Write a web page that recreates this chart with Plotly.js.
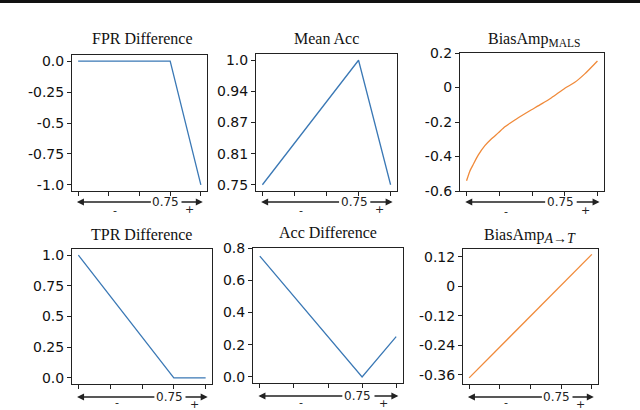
<!DOCTYPE html>
<html>
<head>
<meta charset="utf-8">
<script src="https://cdn.plot.ly/plotly-3.0.1.min.js"></script>
<style>html,body{margin:0;padding:0;background:#fff;}#chart{width:640px;height:410px;}</style>
</head>
<body>
<div id="chart"></div>
<script>
// ---- data ----
const xFPR = [0, 0.75, 1];
const yFPR = [0, 0, -1];
const xMeanAcc = [0, 0.75, 1];
const yMeanAcc = [0.75, 1.0, 0.75];
const xMALS = [0, 0.025, 0.051, 0.089, 0.14, 0.191, 0.242, 0.293, 0.369, 0.445, 0.496, 0.573, 0.649, 0.751, 0.827, 0.903, 1.0];
const yMALS = [-0.541, -0.485, -0.446, -0.392, -0.337, -0.297, -0.263, -0.228, -0.188, -0.152, -0.129, -0.095, -0.059, -0.004, 0.030, 0.079, 0.154];
const xTPR = [0, 0.75, 1];
const yTPR = [1, 0, 0];
const xAccDiff = [0, 0.75, 1];
const yAccDiff = [0.75, 0, 0.25];
const xAT = [0, 1];
const yAT = [-0.372, 0.13];

const titles = ['FPR Difference', 'Mean Acc', 'BiasAmp<sub><span style="font-size:11.5px">MALS</span></sub>',
                'TPR Difference', 'Acc Difference', 'BiasAmp<sub><span style="font-size:14px"><i>A</i>→<i>T</i></span></sub>'];
const xTickVals = [0, 0.25, 0.5, 0.75, 1];
const yTickVals = [
  [0, -0.25, -0.5, -0.75, -1],
  [0.75, 0.8125, 0.875, 0.9375, 1.0],
  [-0.6, -0.4, -0.2, 0, 0.2],
  [0, 0.25, 0.5, 0.75, 1],
  [0, 0.2, 0.4, 0.6, 0.8],
  [-0.36, -0.24, -0.12, 0, 0.12]
];
const yTickText = [
  ['0.0', '-0.25', '-0.5', '-0.75', '-1.0'],
  ['0.75', '0.81', '0.87', '0.94', '1.0'],
  ['-0.6', '-0.4', '-0.2', '0', '0.2'],
  ['0.0', '0.25', '0.5', '0.75', '1.0'],
  ['0.0', '0.2', '0.4', '0.6', '0.8'],
  ['-0.36', '-0.24', '-0.12', '0', '0.12']
];
const midLabel = '0.75';

// ---- layout geometry ----
const W = 640, H = 410;
const boxes = [ // [left, right, top, bottom] in px
  [72, 207, 55, 191],
  [256, 397, 54, 191],
  [460, 604, 53, 191],
  [72, 212, 249, 384],
  [253, 403, 248, 383],
  [463, 598, 249, 384]
];
const yRanges = [
  [-1.05, 0.05],
  [0.7375, 1.0125],
  [-0.6, 0.2],
  [-0.05, 1.05],
  [-0.0375, 0.8],
  [-0.397, 0.152]
];
const titlePos = [[142, 39], [326, 39], [534, 40], [141, 235], [328, 233], [530, 236]];

const BLUE = '#3a78b5', ORANGE = '#f08a3a';
const series = [
  [xFPR, yFPR, BLUE], [xMeanAcc, yMeanAcc, BLUE], [xMALS, yMALS, ORANGE],
  [xTPR, yTPR, BLUE], [xAccDiff, yAccDiff, BLUE], [xAT, yAT, ORANGE]
];

const data = [];
const layout = {
  width: W, height: H,
  margin: {l: 0, r: 0, t: 0, b: 0},
  paper_bgcolor: '#fff', plot_bgcolor: '#fff',
  showlegend: false,
  annotations: [],
  shapes: [{type: 'line', xref: 'paper', yref: 'paper', x0: 0, x1: 1, y0: 1 - 1.5 / H, y1: 1 - 1.5 / H,
            line: {color: '#111', width: 3}}]
};

const axCommon = {
  showline: true, mirror: true, linecolor: '#222', linewidth: 1,
  ticks: 'outside', ticklen: 4, tickcolor: '#222', tickwidth: 1,
  showgrid: false, zeroline: false, fixedrange: true
};

for (let i = 0; i < 6; i++) {
  const n = i === 0 ? '' : String(i + 1);
  const [l, r, t, b] = boxes[i];
  const [xs, ys, col] = series[i];
  data.push({x: xs, y: ys, type: 'scatter', mode: 'lines', xaxis: 'x' + n, yaxis: 'y' + n,
             line: {color: col, width: 1.3, shape: i === 2 ? 'spline' : 'linear', smoothing: 0.6},
             hoverinfo: 'skip'});
  layout['xaxis' + n] = Object.assign({}, axCommon, {
    domain: [l / W, r / W], anchor: 'y' + n, range: [-0.05, 1.05],
    tickvals: xTickVals, showticklabels: false
  });
  layout['yaxis' + n] = Object.assign({}, axCommon, {
    domain: [1 - b / H, 1 - t / H], anchor: 'x' + n, range: yRanges[i],
    tickvals: yTickVals[i], ticktext: yTickText[i],
    tickfont: {family: 'DejaVu Sans', size: 14, color: '#111'}
  });
  // title
  layout.annotations.push({
    xref: 'paper', yref: 'paper', x: titlePos[i][0] / W, y: 1 - titlePos[i][1] / H,
    xanchor: 'center', yanchor: 'middle', showarrow: false, text: titles[i],
    font: {family: 'Liberation Serif', size: 16, color: '#111'}
  });
  // arrows under the x axis
  const h = b - t;
  const top = i < 3;
  const arrowY = (top ? -11 : -13) / h;
  const plusY = (top ? -19 : -20) / h;
  const xr = 'x' + n, yr = 'y' + n + ' domain';
  const arrowStyle = {showarrow: true, arrowhead: 2, arrowsize: 1, arrowwidth: 1.4, arrowcolor: '#222',
                      standoff: 0, startstandoff: 0, axref: xr, ayref: 'pixel', ay: 0};
  // left arrow carries the "0.75" label at its tail
  layout.annotations.push(Object.assign({xref: xr, yref: yr, x: -0.01, y: arrowY, ax: 0.715,
    text: midLabel, font: {family: 'DejaVu Sans', size: 12, color: '#222'}, borderpad: 1}, arrowStyle));
  // right arrow
  layout.annotations.push(Object.assign({xref: xr, yref: yr, x: 1.016, y: arrowY, ax: 0.83, text: ''}, arrowStyle));
  if (top) {
    layout.annotations.push({xref: xr, yref: yr, x: 0.3, y: -20 / h, showarrow: false, text: '-',
      xanchor: 'center', yanchor: 'middle', font: {family: 'DejaVu Sans', size: 11, color: '#222'}});
  } else {
    layout.annotations.push({xref: xr, yref: 'paper', x: 0.3, y: 0, showarrow: false, text: '-',
      xanchor: 'center', yanchor: 'bottom', borderpad: 0,
      font: {family: 'DejaVu Sans', size: 11, color: '#222'}});
  }
  layout.annotations.push({xref: xr, yref: yr, x: 0.91, y: plusY, showarrow: false, text: '+',
    xanchor: 'center', yanchor: 'middle', font: {family: 'DejaVu Sans', size: 11, color: '#222'}});
}

Plotly.newPlot('chart', data, layout, {displayModeBar: false, staticPlot: true});
</script>
</body>
</html>
